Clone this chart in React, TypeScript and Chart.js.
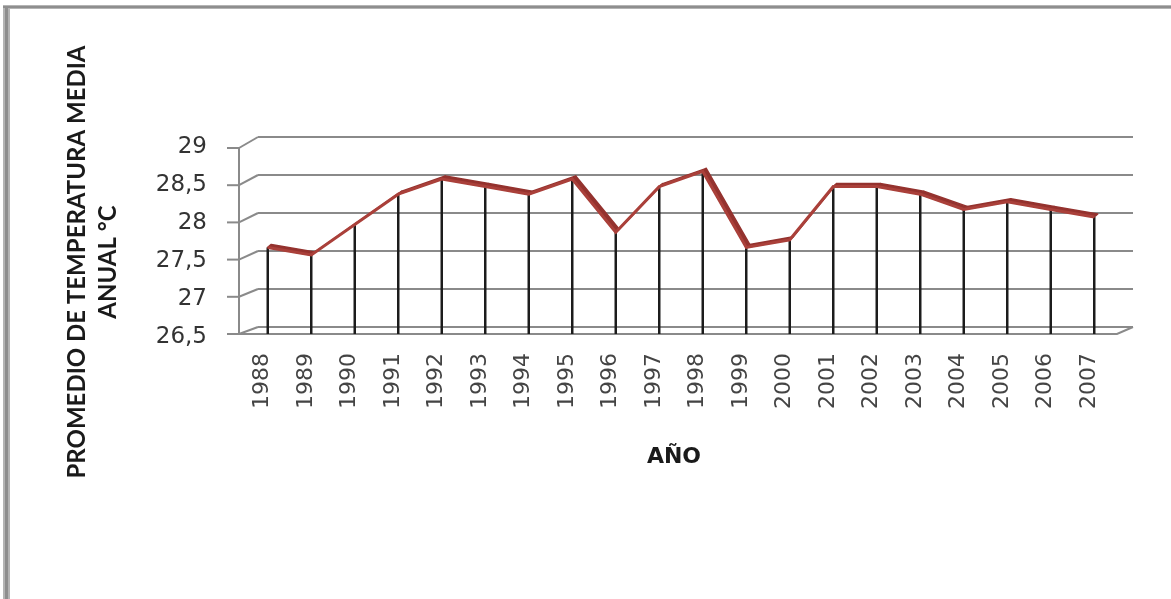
import React, { useEffect, useRef } from "react";
import { Chart, registerables } from "chart.js";

Chart.register(...registerables);

const YEARS = ["1988","1989","1990","1991","1992","1993","1994","1995","1996","1997","1998","1999","2000","2001","2002","2003","2004","2005","2006","2007"];
const TEMPS = [27.6, 27.5, 27.9, 28.3, 28.5, 28.4, 28.3, 28.5, 27.8, 28.4, 28.6, 27.6, 27.7, 28.4, 28.4, 28.3, 28.1, 28.2, 28.1, 28.0];
const Y_MIN = 26.5;
const Y_MAX = 29;
const Y_STEP = 0.5;
const Y_TICKS = [26.5, 27, 27.5, 28, 28.5, 29];
const Y_TITLE = ["PROMEDIO DE TEMPERATURA MEDIA", "ANUAL °C"];
const X_TITLE = "AÑO";

const frame3d = {
  id: "frame3d",
  beforeDraw(chart: any) {
    const ctx = chart.ctx;
    ctx.save();
    ctx.fillStyle = "#ffffff";
    ctx.fillRect(0, 0, chart.width, chart.height);
    ctx.fillStyle = "#b4b4b4";
    ctx.fillRect(3, 5, chart.width - 3, 4);
    ctx.fillRect(3, 5, 7, chart.height - 5);
    ctx.fillStyle = "#8e8e8e";
    ctx.fillRect(3, 6, chart.width - 3, 2);
    ctx.fillRect(5, 6, 3, chart.height - 6);
    ctx.restore();
  },
  beforeDatasetsDraw(chart: any) {
    const ctx = chart.ctx;
    const y = chart.scales.y;
    const area = chart.chartArea;
    const yTop = y.getPixelForValue(Y_MAX);
    const yBot = y.getPixelForValue(Y_MIN);
    const backY = (v: number) => y.getPixelForValue(v) - 4;
    const frontY = (v: number) => {
      const t = (y.getPixelForValue(v) - yTop) / (yBot - yTop);
      return yTop + 7 + t * (yBot + 3 - (yTop + 7));
    };
    const backL = area.left + 12;
    const backR = area.right + 17;
    const frontL = area.left - 7;
    const frontR = area.right + 1;
    const floor = frontY(Y_MIN);

    ctx.save();
    ctx.lineCap = "butt";
    ctx.strokeStyle = "#8a8a8a";
    ctx.lineWidth = 2;
    Y_TICKS.forEach((v) => {
      const by = backY(v);
      const fy = frontY(v);
      ctx.beginPath();
      ctx.moveTo(backL, by);
      ctx.lineTo(backR, by);
      ctx.stroke();
      ctx.beginPath();
      ctx.moveTo(frontL, fy);
      ctx.lineTo(backL, by);
      ctx.stroke();
      ctx.beginPath();
      ctx.moveTo(frontL - 12, fy);
      ctx.lineTo(frontL, fy);
      ctx.stroke();
    });
    ctx.beginPath();
    ctx.moveTo(frontL, frontY(Y_MAX));
    ctx.lineTo(frontL, floor);
    ctx.stroke();
    ctx.beginPath();
    ctx.moveTo(frontL - 12, floor);
    ctx.lineTo(frontR, floor);
    ctx.lineTo(backR, backY(Y_MIN));
    ctx.stroke();

    const meta = chart.getDatasetMeta(0);
    ctx.strokeStyle = "#1c1c1c";
    ctx.lineWidth = 2.5;
    meta.data.forEach((p: any) => {
      ctx.beginPath();
      ctx.moveTo(p.x, p.y);
      ctx.lineTo(p.x, floor);
      ctx.stroke();
    });

    const dx = 3.5, dy = -3;
    ctx.fillStyle = "rgb(148,50,46)";
    ctx.strokeStyle = "rgb(148,50,46)";
    ctx.lineWidth = 1.5;
    ctx.lineJoin = "round";
    for (let i = 0; i < meta.data.length - 1; i++) {
      const a = meta.data[i];
      const b = meta.data[i + 1];
      ctx.beginPath();
      ctx.moveTo(a.x, a.y);
      ctx.lineTo(b.x, b.y);
      ctx.lineTo(b.x + dx, b.y + dy);
      ctx.lineTo(a.x + dx, a.y + dy);
      ctx.closePath();
      ctx.fill();
      ctx.stroke();
    }
    ctx.restore();
  },
  afterDraw(chart: any) {
    const ctx = chart.ctx;
    const area = chart.chartArea;
    ctx.save();
    ctx.fillStyle = "#1a1a1a";
    ctx.textAlign = "center";
    ctx.textBaseline = "middle";
    ctx.font = "bold 24px Lato";
    ctx.translate(77, 262);
    ctx.rotate(-Math.PI / 2);
    ctx.fillText(Y_TITLE[0], 0, 0);
    ctx.fillText(Y_TITLE[1], 0, 31);
    ctx.restore();
    ctx.save();
    ctx.fillStyle = "#1a1a1a";
    ctx.textAlign = "center";
    ctx.textBaseline = "middle";
    ctx.font = "bold 22px 'DejaVu Sans'";
    ctx.fillText(X_TITLE, (area.left + area.right) / 2 - 7, 457);
    ctx.restore();
  },
};

export default function App() {
  const ref = useRef<HTMLCanvasElement | null>(null);
  useEffect(() => {
    if (!ref.current) return;
    const chart = new Chart(ref.current, {
      type: "line",
      data: {
        labels: YEARS,
        datasets: [
          {
            data: TEMPS,
            borderColor: "rgb(170,64,58)",
            borderWidth: 3,
            pointRadius: 0,
            tension: 0,
            fill: false,
          },
        ],
      },
      options: {
        animation: false,
        responsive: false,
        devicePixelRatio: 1,
        layout: { padding: { left: 0, right: 55, top: 141, bottom: 0 } },
        plugins: { legend: { display: false }, tooltip: { enabled: false }, title: { display: false } },
        scales: {
          x: {
            type: "category",
            offset: true,
            grid: { display: false, drawTicks: false },
            border: { display: false },
            ticks: {
              minRotation: 90,
              maxRotation: 90,
              autoSkip: false,
              padding: 22,
              labelOffset: -5,
              color: "#444",
              font: { family: "'DejaVu Sans'", size: 22 },
            },
            afterFit: (s: any) => {
              s.height = 268;
            },
          },
          y: {
            min: Y_MIN,
            max: Y_MAX,
            grid: { display: false, drawTicks: false },
            border: { display: false },
            ticks: {
              stepSize: Y_STEP,
              padding: 39,
              labelOffset: 6,
              color: "#333",
              font: { family: "'DejaVu Sans'", size: 23 },
              callback: (v: any) => String(v).replace(".", ","),
            },
            afterFit: (s: any) => {
              s.width = 246;
            },
          },
        },
      },
      plugins: [frame3d],
    });
    return () => chart.destroy();
  }, []);
  return (
    <div style={{ position: "fixed", left: 0, top: 0, width: 1171, height: 599, background: "#fff" }}>
      <canvas ref={ref} width={1171} height={599} style={{ display: "block" }} />
    </div>
  );
}
